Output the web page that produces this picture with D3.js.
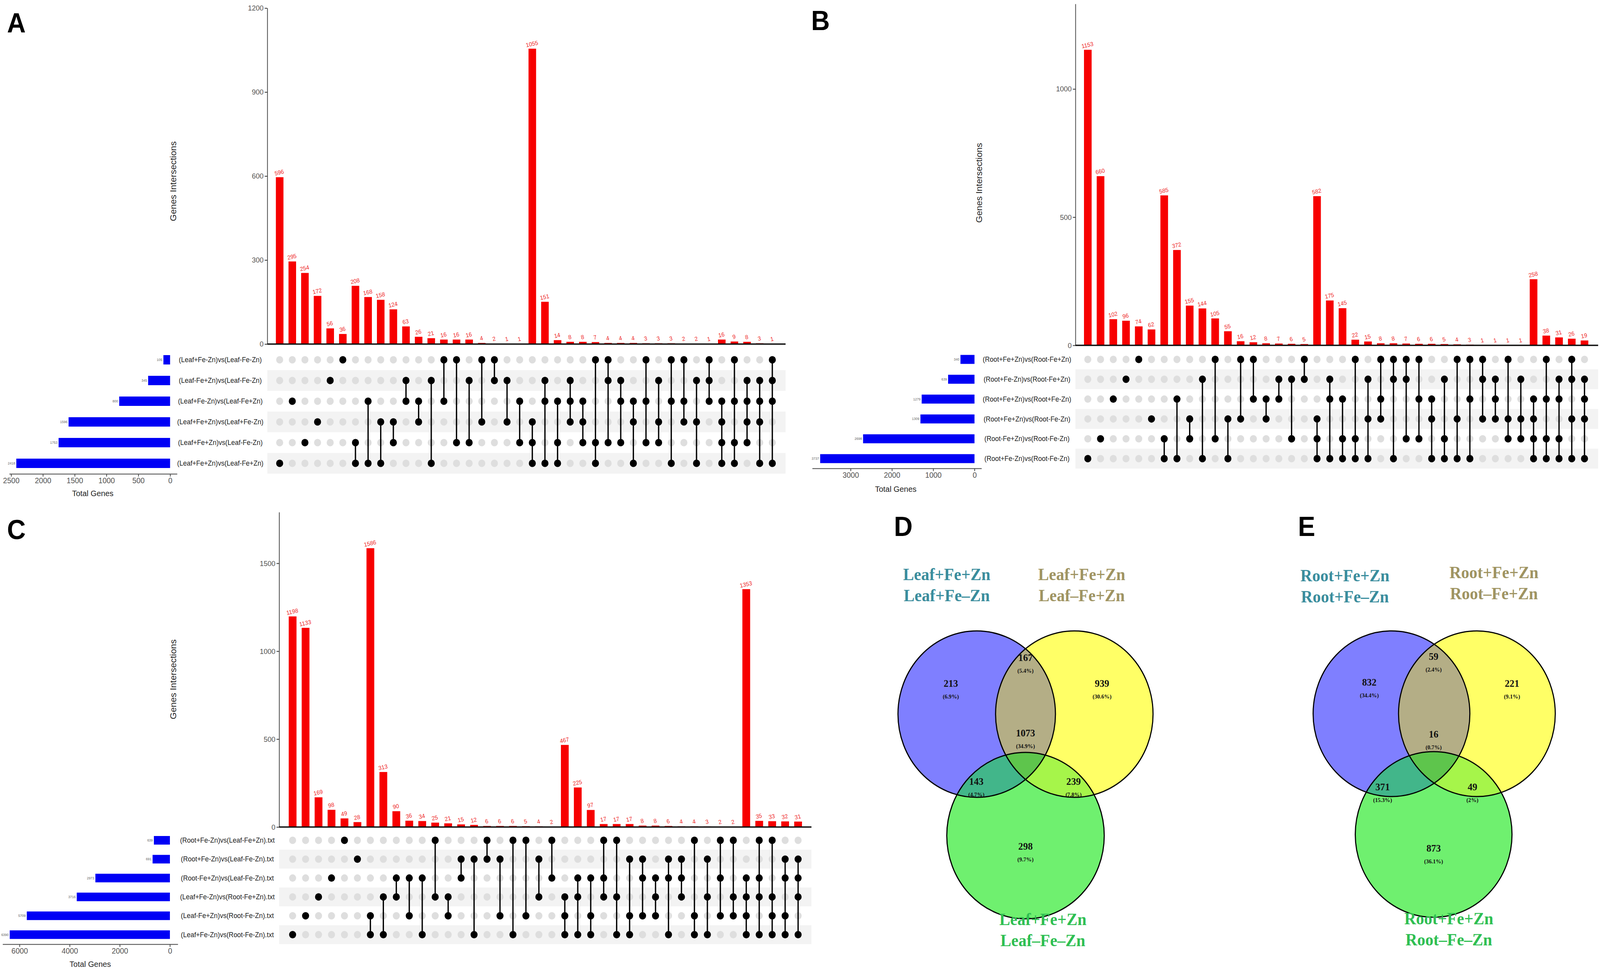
<!DOCTYPE html>
<html>
<head>
<meta charset="utf-8">
<script src="https://cdn.jsdelivr.net/npm/d3@7/dist/d3.min.js"></script>
<style>
html, body { margin: 0; padding: 0; width: 100%; height: 100%; overflow: hidden; background: #fff; }
svg { display: block; width: 100vw; height: 100vh; }
</style>
</head>
<body>
<svg></svg>
<script>
// ---- panel A data (UpSet, leaf comparisons) ----
let setsA = ['(Leaf+Fe-Zn)vs(Leaf-Fe-Zn)', '(Leaf-Fe+Zn)vs(Leaf-Fe-Zn)', '(Leaf+Fe-Zn)vs(Leaf-Fe+Zn)',
  '(Leaf+Fe+Zn)vs(Leaf+Fe-Zn)', '(Leaf+Fe+Zn)vs(Leaf-Fe-Zn)', '(Leaf+Fe+Zn)vs(Leaf-Fe+Zn)']
let sizesA = [105, 345, 800, 1596, 1753, 2418]
let countsA = [596, 295, 254, 172, 56, 36, 208, 168, 158, 124, 63, 26, 21, 16, 16, 16, 4, 2, 1, 1,
  1055, 151, 14, 8, 8, 7, 4, 4, 4, 3, 3, 3, 2, 2, 1, 16, 9, 8, 3, 1]
// digits = rows (1 = top row) that take part in each intersection
let combosA = ['6', '3', '5', '4', '2', '1', '56', '36', '46', '45', '23', '34', '26', '13', '15', '25', '14', '12', '24', '35',
  '456', '236', '356', '234', '345', '156', '125', '235', '346', '135', '245', '136', '134', '246', '123',
  '3456', '1356', '2345', '2346', '1236']
let ticksA = [0, 300, 600, 900, 1200]
let sizeTicksA = [0, 500, 1000, 1500, 2000, 2500]

// ---- panel B data (root comparisons) ----
let setsB = ['(Root+Fe+Zn)vs(Root-Fe+Zn)', '(Root+Fe-Zn)vs(Root-Fe+Zn)', '(Root+Fe+Zn)vs(Root+Fe-Zn)',
  '(Root+Fe+Zn)vs(Root-Fe-Zn)', '(Root-Fe+Zn)vs(Root-Fe-Zn)', '(Root+Fe-Zn)vs(Root-Fe-Zn)']
let sizesB = [340, 639, 1279, 1309, 2698, 3737]
let countsB = [1153, 660, 102, 96, 74, 62, 585, 372, 155, 144, 105, 55, 16, 12, 8, 7, 6, 5,
  582, 175, 145, 22, 15, 8, 8, 7, 6, 6, 5, 4, 3, 1, 1, 1, 1, 258, 38, 31, 26, 19]
let combosB = ['6', '5', '3', '2', '1', '4', '56', '36', '45', '26', '15', '46', '14', '13', '34', '23', '25', '12',
  '456', '236', '356', '156', '246', '134', '126', '125', '135', '346', '256', '146', '136', '124', '234', '145', '245',
  '3456', '1356', '2356', '1246', '2346']
let ticksB = [0, 500, 1000]
let sizeTicksB = [0, 1000, 2000, 3000]

// ---- panel C data (root vs leaf comparisons) ----
let setsC = ['(Root+Fe-Zn)vs(Leaf-Fe+Zn).txt', '(Root+Fe-Zn)vs(Leaf-Fe-Zn).txt', '(Root-Fe+Zn)vs(Leaf-Fe-Zn).txt',
  '(Leaf+Fe-Zn)vs(Root-Fe+Zn).txt', '(Leaf-Fe+Zn)vs(Root-Fe-Zn).txt', '(Leaf+Fe-Zn)vs(Root-Fe-Zn).txt']
let sizesC = [639, 691, 2973, 3716, 5709, 6390]
let countsC = [1198, 1133, 169, 98, 49, 28, 1586, 313, 90, 36, 34, 25, 21, 15, 12, 6, 6, 6, 5, 4, 2,
  467, 225, 97, 17, 17, 17, 8, 8, 6, 4, 4, 3, 2, 2, 1353, 35, 33, 32, 31]
let combosC = ['6', '5', '4', '3', '1', '2', '56', '46', '34', '35', '36', '14', '45', '23', '26', '12', '25', '16', '15', '24', '13',
  '456', '346', '356', '134', '146', '256', '235', '345', '236', '234', '156', '246', '135', '145',
  '3456', '1346', '1456', '2356', '2346']
let ticksC = [0, 500, 1000, 1500]
let sizeTicksC = [0, 2000, 4000, 6000]

// ---- Venn data (D leaf, E root) ----
let regions = ['a', 'ab', 'b', 'ac', 'abc', 'bc', 'c']
let countsD = [213, 167, 939, 143, 1073, 239, 298]
let pctD = ['(6.9%)', '(5.4%)', '(30.6%)', '(4.7%)', '(34.9%)', '(7.8%)', '(9.7%)']
let namesD = [['Leaf+Fe+Zn', 'Leaf+Fe–Zn'], ['Leaf+Fe+Zn', 'Leaf–Fe+Zn'], ['Leaf+Fe+Zn', 'Leaf–Fe–Zn']]
let countsE = [832, 59, 221, 371, 16, 49, 873]
let pctE = ['(34.4%)', '(2.4%)', '(9.1%)', '(15.3%)', '(0.7%)', '(2%)', '(36.1%)']
let namesE = [['Root+Fe+Zn', 'Root+Fe–Zn'], ['Root+Fe+Zn', 'Root–Fe+Zn'], ['Root+Fe+Zn', 'Root–Fe–Zn']]

let width = 4328
let height = 2483
let sans = '"Liberation Sans", Arial, sans-serif'
let serif = '"Liberation Serif", "Times New Roman", serif'

// the drawing is laid out on a 4328x2483 grid and stretched to fill the window
let svg = d3.select('svg')
  .attr('viewBox', '0 0 ' + width + ' ' + height)
  .attr('preserveAspectRatio', 'none')
svg.append('rect').attr('width', width).attr('height', height).attr('fill', '#fff')
let defs = svg.append('defs')

let drawUpset = (d, L) => {
  let g = svg.append('g')
  let n = d.counts.length

  let xScale = d3.scaleBand().domain(d3.range(n))
    .range([L.x0, L.x0 + n * L.step]).paddingInner(0.4).paddingOuter(0.2)
  let yScale = d3.scaleLinear().domain([0, L.yMax]).range([L.base, L.top])
  let rowScale = d3.scaleBand().domain(d3.range(6))
    .range([L.row0 - L.rowStep / 2, L.row0 + 5.5 * L.rowStep])
  let sizeScale = d3.scaleLinear().domain(L.sizeDomain).range(L.sizeRange)
  let cx = (i) => xScale(i) + xScale.bandwidth() / 2
  let cy = (r) => rowScale(r) + rowScale.bandwidth() / 2

  // intersection bars
  g.selectAll('.bar').data(d.counts).enter().append('rect')
    .attr('x', (v, i) => xScale(i))
    .attr('y', (v) => yScale(v))
    .attr('width', xScale.bandwidth())
    .attr('height', (v) => L.base - yScale(v))
    .attr('fill', '#f70000')

  g.selectAll('.barlab').data(d.counts).enter().append('text')
    .attr('x', (v, i) => cx(i))
    .attr('y', (v) => yScale(v) - 7)
    .attr('transform', (v, i) => 'rotate(-12,' + cx(i) + ',' + (yScale(v) - 7) + ')')
    .attr('text-anchor', 'middle')
    .attr('font-family', sans).attr('font-size', 15)
    .attr('fill', '#ee2b2b')
    .text((v) => v)

  let yAxis = d3.axisLeft(yScale).tickValues(d.ticks).tickFormat(d3.format('d')).tickSize(7).tickSizeOuter(0)
  let ya = g.append('g').attr('transform', 'translate(' + L.axisX + ',0)').call(yAxis)
  ya.select('.domain').attr('stroke', '#444').attr('stroke-width', 2)
  ya.selectAll('.tick line').attr('stroke', '#333').attr('stroke-width', 2)
  ya.selectAll('.tick text').attr('font-family', sans).attr('font-size', 19).attr('fill', '#555')

  g.append('line')
    .attr('x1', L.axisX).attr('x2', L.lineEnd)
    .attr('y1', L.base).attr('y2', L.base)
    .attr('stroke', '#111').attr('stroke-width', 3.5)

  g.append('text')
    .attr('transform', 'translate(' + L.titleX + ',' + L.titleY + ') rotate(-90)')
    .attr('text-anchor', 'middle').attr('dominant-baseline', 'central')
    .attr('font-family', sans).attr('font-size', 23).attr('fill', '#222')
    .text('Genes Intersections')

  // matrix background stripes
  g.selectAll('.stripe').data([1, 3, 5]).enter().append('rect')
    .attr('x', L.axisX).attr('width', L.lineEnd - L.axisX)
    .attr('y', (r) => rowScale(r)).attr('height', rowScale.bandwidth())
    .attr('fill', '#f3f3f3')

  let grid = []
  d.counts.forEach((v, i) => { d3.range(6).forEach((r) => grid.push({ i: i, r: r })) })
  g.selectAll('.empty').data(grid).enter().append('circle')
    .attr('cx', (p) => cx(p.i)).attr('cy', (p) => cy(p.r)).attr('r', L.dot)
    .attr('fill', '#dedede')

  let members = d.combos.map((c) => c.split('').map((ch) => +ch - 1))
  members.forEach((m, i) => {
    if (m.length > 1) {
      g.append('line')
        .attr('x1', cx(i)).attr('x2', cx(i))
        .attr('y1', cy(d3.min(m))).attr('y2', cy(d3.max(m)))
        .attr('stroke', '#000').attr('stroke-width', 3.5)
    }
    g.selectAll(null).data(m).enter().append('circle')
      .attr('cx', cx(i)).attr('cy', (r) => cy(r)).attr('r', L.dot)
      .attr('fill', '#000')
  })

  // set size bars
  g.selectAll('.setbar').data(d.sizes).enter().append('rect')
    .attr('x', (v) => sizeScale(v))
    .attr('width', (v) => sizeScale(0) - sizeScale(v))
    .attr('y', (v, r) => cy(r) - L.setBar / 2)
    .attr('height', L.setBar)
    .attr('fill', '#0000f5')

  g.selectAll('.setlab').data(d.sizes).enter().append('text')
    .attr('x', (v) => sizeScale(v) - 3)
    .attr('y', (v, r) => cy(r))
    .attr('text-anchor', 'end').attr('dominant-baseline', 'central')
    .attr('font-family', sans).attr('font-size', 9).attr('fill', '#666')
    .text((v) => v)

  g.selectAll('.setname').data(d.sets).enter().append('text')
    .attr('x', L.nameX).attr('y', (s, r) => cy(r))
    .attr('text-anchor', 'middle').attr('dominant-baseline', 'central')
    .attr('font-family', sans).attr('font-size', 18).attr('fill', '#222')
    .text((s) => s)

  let sAxis = d3.axisBottom(sizeScale).tickValues(d.sizeTicks).tickFormat(d3.format('d')).tickSize(7).tickSizeOuter(0)
  let sa = g.append('g').attr('transform', 'translate(0,' + L.sizeAxisY + ')').call(sAxis)
  sa.select('.domain').attr('stroke', '#444').attr('stroke-width', 2)
  sa.selectAll('.tick line').attr('stroke', '#444').attr('stroke-width', 2)
  sa.selectAll('.tick text').attr('font-family', sans).attr('font-size', 20).attr('fill', '#555')

  g.append('text')
    .attr('x', L.totalX).attr('y', L.totalY)
    .attr('text-anchor', 'middle').attr('dominant-baseline', 'central')
    .attr('font-family', sans).attr('font-size', 21).attr('fill', '#222')
    .text('Total Genes')
}

let drawVenn = (d, L) => {
  let g = svg.append('g')
  let circles = L.centers.map((c) => ({ x: c[0], y: c[1] }))
  circles.forEach((c, k) => {
    defs.append('clipPath').attr('id', L.id + 'clip' + k)
      .append('circle').attr('cx', c.x).attr('cy', c.y).attr('r', L.r)
  })
  let fills = ['#7f7fff', '#ffff66', '#6ff06f']
  g.selectAll('.fill').data(circles).enter().append('circle')
    .attr('cx', (c) => c.x).attr('cy', (c) => c.y).attr('r', L.r)
    .attr('fill', (c, k) => fills[k])
  // pairwise overlaps, then the triple overlap
  let pairs = [[0, 1, '#b4ae86'], [0, 2, '#42b68a'], [1, 2, '#a6f54a']]
  pairs.forEach((p) => {
    g.append('circle').attr('cx', circles[p[1]].x).attr('cy', circles[p[1]].y).attr('r', L.r)
      .attr('clip-path', 'url(#' + L.id + 'clip' + p[0] + ')').attr('fill', p[2])
  })
  g.append('g').attr('clip-path', 'url(#' + L.id + 'clip0)')
    .append('circle').attr('cx', circles[2].x).attr('cy', circles[2].y).attr('r', L.r)
    .attr('clip-path', 'url(#' + L.id + 'clip1)').attr('fill', '#5ec54c')
  g.selectAll('.edge').data(circles).enter().append('circle')
    .attr('cx', (c) => c.x).attr('cy', (c) => c.y).attr('r', L.r)
    .attr('fill', 'none').attr('stroke', '#000').attr('stroke-width', 3)

  regions.forEach((key, k) => {
    let p = L.spots[key]
    g.append('text').attr('x', p[0]).attr('y', p[1])
      .attr('text-anchor', 'middle').attr('font-family', serif).attr('font-weight', 'bold')
      .attr('font-size', 26).attr('fill', '#111').text(d.counts[k])
    g.append('text').attr('x', p[0]).attr('y', p[1] + 30)
      .attr('text-anchor', 'middle').attr('font-family', serif).attr('font-weight', 'bold')
      .attr('font-size', 15).attr('fill', '#111').text(d.pcts[k])
  })
  let nameColors = ['#3a8d9d', '#9f9462', '#2fbf52']
  d.names.forEach((pair, k) => {
    pair.forEach((t, j) => {
      g.append('text').attr('x', L.names[k][0]).attr('y', L.names[k][1] + j * 54)
        .attr('text-anchor', 'middle').attr('font-family', serif).attr('font-weight', 'bold')
        .attr('font-size', 44).attr('fill', nameColors[k]).text(t)
    })
  })
}

drawUpset({ sets: setsA, sizes: sizesA, counts: countsA, combos: combosA, ticks: ticksA, sizeTicks: sizeTicksA }, {
  x0: 739.4, step: 34.17, yMax: 1200, base: 880.7, top: 20.7, axisX: 723, lineEnd: 2125,
  row0: 921, rowStep: 53, dot: 9.5, setBar: 24,
  sizeDomain: [-110, 2529], sizeRange: [479, 25], sizeAxisY: 1213,
  nameX: 596, titleX: 469, titleY: 464, totalX: 251, totalY: 1262
})
drawUpset({ sets: setsB, sizes: sizesB, counts: countsB, combos: combosB, ticks: ticksB, sizeTicks: sizeTicksB }, {
  x0: 2925.3, step: 34.45, yMax: 1332, base: 884, top: 10, axisX: 2909, lineEnd: 4323,
  row0: 920, rowStep: 50.8, dot: 9.5, setBar: 23,
  sizeDomain: [-170, 3930], sizeRange: [2655, 2197], sizeAxisY: 1199,
  nameX: 2778, titleX: 2649, titleY: 468, totalX: 2423, totalY: 1251
})
drawUpset({ sets: setsC, sizes: sizesC, counts: countsC, combos: combosC, ticks: ticksC, sizeTicks: sizeTicksC }, {
  x0: 774, step: 35.06, yMax: 1791, base: 2117, top: 1311, axisX: 755, lineEnd: 2195,
  row0: 2151, rowStep: 48.3, dot: 9.5, setBar: 22,
  sizeDomain: [-316, 6675], sizeRange: [481, 7], sizeAxisY: 2417,
  nameX: 615, titleX: 469, titleY: 1739, totalX: 244, totalY: 2467
})

drawVenn({ counts: countsD, pcts: pctD, names: namesD }, {
  id: 'vd', r: 213, centers: [[2642, 1828], [2906, 1828], [2774, 2139]],
  spots: { a: [2572, 1758], ab: [2774, 1692], b: [2981, 1758], ac: [2641, 2009], abc: [2774, 1885], bc: [2904, 2009], c: [2774, 2175] },
  names: [[2561, 1485], [2926, 1485], [2821, 2368]]
})
drawVenn({ counts: countsE, pcts: pctE, names: namesE }, {
  id: 've', r: 212, centers: [[3764, 1827], [3995, 1827], [3878, 2136]],
  spots: { a: [3704, 1755], ab: [3878, 1689], b: [4090, 1758], ac: [3740, 2023], abc: [3878, 1888], bc: [3983, 2023], c: [3878, 2180] },
  names: [[3638, 1488], [4041, 1480], [3919, 2366]]
})

// panel letters
let letters = [['A', 19, 83], ['B', 2194, 77], ['C', 19, 1380], ['D', 2418, 1372], ['E', 3511, 1372]]
svg.selectAll('.letter').data(letters).enter().append('text')
  .attr('x', (l) => l[1]).attr('y', (l) => l[2])
  .attr('font-family', sans).attr('font-weight', 'bold').attr('font-size', 70)
  .attr('fill', '#000').text((l) => l[0])
</script>
</body>
</html>
